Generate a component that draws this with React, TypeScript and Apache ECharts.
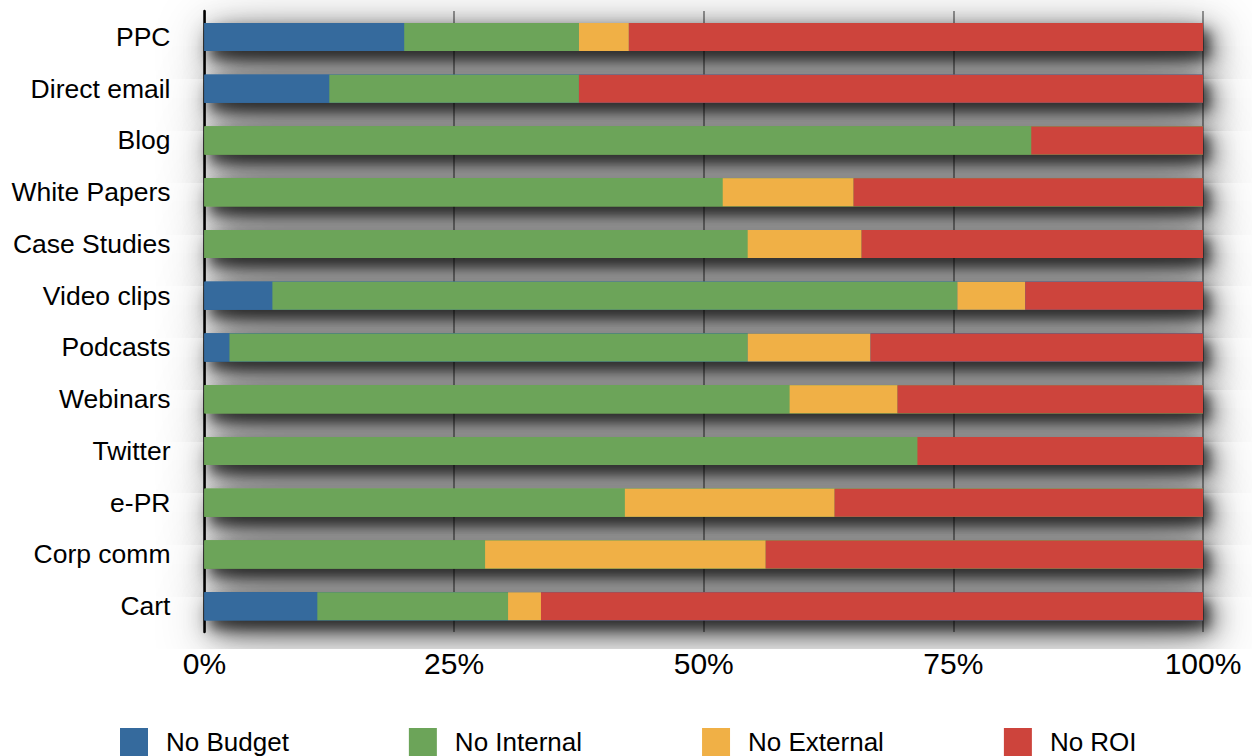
import React, { useEffect, useRef } from "react";
import * as echarts from "echarts";

// Channels, listed top to bottom
const categories = [
  "PPC",
  "Direct email",
  "Blog",
  "White Papers",
  "Case Studies",
  "Video clips",
  "Podcasts",
  "Webinars",
  "Twitter",
  "e-PR",
  "Corp comm",
  "Cart",
];

// Share of respondents (%) per reason
const noBudget = [20, 12.5, 0, 0, 0, 6.8, 2.5, 0, 0, 0, 0, 11.3];
const noInternal = [17.5, 25, 82.8, 51.9, 54.4, 68.6, 51.9, 58.6, 71.4, 42.1, 28.1, 19.1];
const noExternal = [5, 0, 0, 13.1, 11.4, 6.8, 12.3, 10.8, 0, 21.0, 28.1, 3.3];
const noROI = [57.5, 62.5, 17.2, 35.0, 34.2, 17.8, 33.3, 30.6, 28.6, 36.9, 43.8, 66.3];

const seriesNames = ["No Budget", "No Internal", "No External", "No ROI"];
const seriesColors = ["#356a9d", "#6ca459", "#f0b046", "#cd443c"];
const xTicks = [0, 25, 50, 75, 100];

export default function App() {
  const ref = useRef<HTMLDivElement>(null);

  useEffect(() => {
    document.body.style.margin = "0";
    if (!ref.current) return;
    const chart = echarts.init(ref.current, undefined, { renderer: "svg" });

    const values = [noBudget, noInternal, noExternal, noROI];
    // full-length bars behind each stack, carrying the drop shadow;
    // each takes the colour of its leftmost segment so no edge shows
    const totals = categories.map((_, i) => {
      const first = values.findIndex((arr) => arr[i] > 0);
      return {
        value: values.reduce((s, arr) => s + arr[i], 0),
        itemStyle: { color: seriesColors[first] },
      };
    });

    const shadowLayer = (id: string, blur: number, dx: number, dy: number, color: string) => ({
      id,
      type: "bar" as const,
      data: totals,
      barWidth: 28,
      barGap: "-100%",
      z: 2,
      silent: true,
      itemStyle: {
        shadowBlur: blur,
        shadowOffsetX: dx,
        shadowOffsetY: dy,
        shadowColor: color,
      },
    });

    const stacked = seriesNames.map((name, k) => ({
      name,
      type: "bar" as const,
      stack: "total",
      data: values[k],
      barWidth: 28,
      barGap: "-100%",
      z: 3,
      itemStyle: { color: seriesColors[k] },
    }));

    chart.setOption({
      animation: false,
      textStyle: { fontFamily: "Liberation Sans, Arial, sans-serif" },
      grid: { left: 204.5, right: 49, top: 11, bottom: 124, containLabel: false },
      legend: {
        data: seriesNames,
        left: 115,
        top: 728,
        padding: [0, 5, 0, 5],
        itemWidth: 28,
        itemHeight: 28,
        itemGap: 120,
        icon: "rect",
        selectedMode: false,
        textStyle: {
          fontSize: 26,
          lineHeight: 28,
          color: "#000",
          padding: [0, 0, 0, 13],
        },
      },
      xAxis: {
        type: "value",
        min: 0,
        max: 100,
        interval: 25,
        axisLine: { show: false },
        axisTick: { show: false },
        splitLine: { show: true, lineStyle: { color: "#9a9a9a", width: 2 } },
        axisLabel: {
          fontSize: 30,
          color: "#000",
          margin: 16,
          formatter: (v: number) => (xTicks.includes(v) ? `${v}%` : ""),
        },
      },
      yAxis: {
        type: "category",
        data: categories,
        inverse: true,
        axisLine: { show: true, lineStyle: { color: "#000", width: 2.5 } },
        axisTick: { show: false },
        axisLabel: { fontSize: 26.5, color: "#000", margin: 34 },
      },
      series: [
        shadowLayer("shadow-halo", 60, 8, 14, "rgba(0,0,0,0.45)"),
        shadowLayer("shadow-wide", 28, 8, 10, "rgba(0,0,0,0.8)"),
        shadowLayer("shadow-near", 12, 6, 8, "rgba(0,0,0,0.5)"),
        ...stacked,
      ],
    });

    return () => chart.dispose();
  }, []);

  return <div ref={ref} style={{ width: 1252, height: 756 }} />;
}
